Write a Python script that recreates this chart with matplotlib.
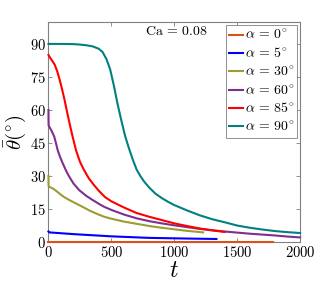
import numpy as np
import matplotlib
matplotlib.use('Agg')
import matplotlib.pyplot as plt

plt.rcParams['font.family'] = 'serif'
plt.rcParams['font.serif'] = ['cmr10', 'DejaVu Serif']
plt.rcParams['mathtext.fontset'] = 'cm'
plt.rcParams['axes.formatter.use_mathtext'] = True

# contact angle relaxation
t_0 = [0, 1786]
th_0 = [0, 0]

t_5 = [0, 5, 200, 500, 800, 1100, 1335]
th_5 = [4.8, 4.4, 3.6, 2.6, 1.9, 1.6, 1.4]

t_30 = [0, 1, 10, 33, 60, 86, 120, 165, 220, 271, 330, 390, 443, 500, 600, 700,
        800, 900, 1000, 1100, 1229]
th_30 = [30, 25.5, 25, 24.4, 23.3, 22.1, 20.6, 19.1, 17.5, 16, 14.2, 12.7, 11.5,
         10.6, 9.3, 8.3, 7.3, 6.5, 5.8, 5.1, 4.4]

t_60 = [0, 1, 10, 25, 46, 60, 73, 90, 113, 140, 165, 200, 244, 300, 351, 400, 443,
        500, 600, 700, 800, 900, 1000, 1100, 1200, 1300, 1400, 1500, 1600, 1700,
        1800, 1900, 2000]
th_60 = [60, 53, 52, 50.5, 47.9, 44.8, 41.8, 39, 35.8, 32.4, 29.7, 26.5, 23.6, 21,
         19.1, 17.4, 16, 14.6, 12.5, 10.8, 9.5, 8.5, 7.6, 6.8, 6.0, 5.4, 4.8, 4.3,
         3.8, 3.4, 3.0, 2.5, 2.1]

t_85 = [0, 10, 30, 50, 70, 90, 110, 130, 150, 170, 190, 220, 250, 280, 320, 360,
        400, 450, 500, 600, 700, 800, 900, 1000, 1100, 1200, 1300, 1400]
th_85 = [85, 84, 82.3, 80.5, 77.5, 73.5, 69, 64, 58.5, 53.3, 48.3, 41.5, 36.5, 33,
         29, 26, 23.3, 20.4, 18.5, 15.7, 13.2, 11.5, 10, 8.5, 7.3, 6.2, 5.3, 4.6]

t_90 = [0, 100, 200, 250, 300, 350, 400, 430, 460, 490, 520, 550, 580, 610, 640,
        670, 700, 730, 760, 800, 850, 900, 950, 1000, 1100, 1200, 1300, 1400, 1500,
        1600, 1700, 1800, 1900, 2000]
th_90 = [90, 90, 89.9, 89.7, 89.4, 88.9, 87.8, 86.3, 83.2, 78.5, 71, 62.5, 55, 48,
         42.5, 37.5, 33, 30, 27.5, 24.8, 22, 20, 18.3, 16.8, 14.4, 12.2, 10.4, 9.0,
         7.5, 6.5, 5.7, 5.0, 4.5, 4.1]

series = [
    (t_0, th_0, '#D95319', r'$\alpha\,=\,0^{\circ}$'),
    (t_5, th_5, '#0000FF', r'$\alpha\,=\,5^{\circ}$'),
    (t_30, th_30, '#9C9C30', r'$\alpha\,=\,30^{\circ}$'),
    (t_60, th_60, '#7E2F8E', r'$\alpha\,=\,60^{\circ}$'),
    (t_85, th_85, '#FF0000', r'$\alpha\,=\,85^{\circ}$'),
    (t_90, th_90, '#008080', r'$\alpha\,=\,90^{\circ}$'),
]

fig = plt.figure(figsize=(3.32, 2.92), dpi=100)
ax = fig.add_axes([0.146, 0.171, 0.758, 0.754])

for t, th, col, lab in series:
    ax.plot(t, th, color=col, lw=1.5, label=lab, clip_on=False, zorder=3)

ax.set_xlim(0, 2000)
ax.set_ylim(0, 100)
ax.set_xticks([0, 500, 1000, 1500, 2000])
ax.set_yticks([0, 15, 30, 45, 60, 75, 90])
ax.tick_params(direction='in', length=3, width=0.6, color='#808080',
               top=True, right=True, labelsize=10.5, pad=2)
for s in ax.spines.values():
    s.set_color('#808080')
    s.set_linewidth(0.8)

ax.set_xlabel(r'$t$', fontsize=17, labelpad=0)
ax.set_ylabel(r'$\bar{\theta}(^{\circ})$', fontsize=15, labelpad=1)

ax.text(766, 95.5, r'$\mathrm{Ca}\,=\,0.08$', fontsize=10, va='center')

leg = ax.legend(loc='upper right', fontsize=10, handlelength=1.0, handletextpad=0.1,
                labelspacing=0.3, borderpad=0.25, borderaxespad=0.2,
                fancybox=False, framealpha=1, edgecolor='#808080')
leg.set_zorder(5)
leg.get_frame().set_linewidth(0.6)

fig.savefig('out.png', dpi=100)
